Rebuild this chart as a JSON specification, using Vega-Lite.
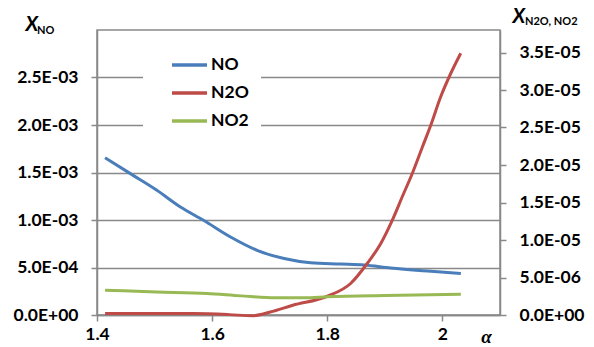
{
  "$schema": "https://vega.github.io/schema/vega-lite/v6.json",
  "autosize": {"type": "none"},
  "padding": {"left": 97, "top": 30, "right": 94, "bottom": 32},
  "width": 403,
  "height": 285,
  "background": "white",
  "data": {
    "values": [
      {"series": "NO", "alpha": 1.414, "x": 0.001655},
      {"series": "NO", "alpha": 1.458, "x": 0.001488},
      {"series": "NO", "alpha": 1.504, "x": 0.001313},
      {"series": "NO", "alpha": 1.545, "x": 0.001137},
      {"series": "NO", "alpha": 1.585, "x": 0.000997},
      {"series": "NO", "alpha": 1.632, "x": 0.000821},
      {"series": "NO", "alpha": 1.678, "x": 0.000681},
      {"series": "NO", "alpha": 1.725, "x": 0.000594},
      {"series": "NO", "alpha": 1.771, "x": 0.00055},
      {"series": "NO", "alpha": 1.823, "x": 0.000537},
      {"series": "NO", "alpha": 1.864, "x": 0.000527},
      {"series": "NO", "alpha": 1.91, "x": 0.000495},
      {"series": "NO", "alpha": 1.98, "x": 0.00046},
      {"series": "NO", "alpha": 2.032, "x": 0.000437},
      {"series": "N2O", "alpha": 1.414, "x": 0.0000002},
      {"series": "N2O", "alpha": 1.5, "x": 0.0000002},
      {"series": "N2O", "alpha": 1.568, "x": 0.00000019},
      {"series": "N2O", "alpha": 1.63, "x": 0.00000005},
      {"series": "N2O", "alpha": 1.67, "x": -0.0000001},
      {"series": "N2O", "alpha": 1.701, "x": 0.0000004},
      {"series": "N2O", "alpha": 1.74, "x": 0.0000013},
      {"series": "N2O", "alpha": 1.8, "x": 0.0000025},
      {"series": "N2O", "alpha": 1.8405, "x": 0.0000042},
      {"series": "N2O", "alpha": 1.8696, "x": 0.0000069},
      {"series": "N2O", "alpha": 1.8927, "x": 0.0000095},
      {"series": "N2O", "alpha": 1.913, "x": 0.00001265},
      {"series": "N2O", "alpha": 1.9304, "x": 0.0000158},
      {"series": "N2O", "alpha": 1.9478, "x": 0.0000189},
      {"series": "N2O", "alpha": 1.9652, "x": 0.0000224},
      {"series": "N2O", "alpha": 1.9797, "x": 0.0000253},
      {"series": "N2O", "alpha": 1.997, "x": 0.0000291},
      {"series": "N2O", "alpha": 2.0144, "x": 0.0000322},
      {"series": "N2O", "alpha": 2.0318, "x": 0.0000349},
      {"series": "NO2", "alpha": 1.414, "x": 0.0000033},
      {"series": "NO2", "alpha": 1.504, "x": 0.00000307},
      {"series": "NO2", "alpha": 1.591, "x": 0.00000286},
      {"series": "NO2", "alpha": 1.65, "x": 0.00000255},
      {"series": "NO2", "alpha": 1.71, "x": 0.0000023},
      {"series": "NO2", "alpha": 1.76, "x": 0.0000023},
      {"series": "NO2", "alpha": 1.8, "x": 0.00000242},
      {"series": "NO2", "alpha": 1.9, "x": 0.0000026},
      {"series": "NO2", "alpha": 2.032, "x": 0.00000277}
    ]
  },
  "layer": [
    {
      "layer": [
        {
          "transform": [{"filter": "datum.series == 'NO'"}],
          "mark": {"type": "line", "interpolate": "monotone", "strokeWidth": 3},
          "encoding": {
            "x": {
              "field": "alpha", "type": "quantitative",
              "scale": {"domain": [1.4, 2.1], "nice": false, "zero": false},
              "axis": {
                "values": [1.4, 1.6, 1.8, 2.0], "format": ".1~f", "grid": false,
                "labelPadding": 4, "title": "α", "titleFont": "Liberation Serif",
                "titleFontStyle": "italic", "titleFontWeight": "bold", "titleFontSize": 19,
                "titleX": 389, "titleY": 27, "titleAlign": "center", "titleBaseline": "alphabetic",
                "labelFlush": false
              }
            },
            "y": {
              "field": "x", "type": "quantitative",
              "scale": {"domain": [0, 0.003], "nice": false, "zero": false},
              "axis": {
                "values": [0, 0.0005, 0.001, 0.0015, 0.002, 0.0025], "grid": true,
                "labelPadding": 13,
                "labelExpr": "datum.value == 0 ? '0.0E+00' : format(datum.value / pow(10, floor(log(datum.value) / LN10 + 1e-9)), '.1f') + 'E-' + (floor(log(datum.value) / LN10 + 1e-9) > -10 ? '0' : '') + abs(floor(log(datum.value) / LN10 + 1e-9))",
                "title": "X", "titleAngle": 0, "titleX": -72, "titleY": 0,
                "titleAlign": "left", "titleBaseline": "alphabetic",
                "titleFontStyle": "italic", "titleFontWeight": "bold", "titleFontSize": 20
              }
            },
            "color": {
              "field": "series", "type": "nominal",
              "scale": {"domain": ["NO", "N2O", "NO2"], "range": ["#4A7EBB", "#BE4B48", "#98B954"]},
              "legend": {"orient": "none", "legendX": 46, "legendY": 3.5, "title": null}
            }
          }
        },
        {
          "data": {"values": [{}]},
          "mark": {"type": "text", "text": "NO", "align": "left", "baseline": "alphabetic", "dx": -60, "dy": 4, "fontSize": 11, "fontWeight": "bold", "font": "Lato", "color": "black"},
          "encoding": {
            "x": {"datum": 1.4, "type": "quantitative"},
            "y": {"datum": 0.003, "type": "quantitative"}
          }
        },
        {
          "data": {"values": [{}]},
          "mark": {"type": "text", "text": "N2O, NO2", "align": "left", "baseline": "alphabetic", "dx": 25, "dy": -5, "fontSize": 11, "fontWeight": "bold", "font": "Lato", "color": "black"},
          "encoding": {
            "x": {"datum": 2.1, "type": "quantitative"},
            "y": {"datum": 0.003, "type": "quantitative"}
          }
        }
      ]
    },
    {
      "transform": [{"filter": "datum.series != 'NO'"}],
      "mark": {"type": "line", "interpolate": "monotone", "strokeWidth": 3},
      "encoding": {
        "x": {"field": "alpha", "type": "quantitative"},
        "y": {
          "field": "x", "type": "quantitative",
          "scale": {"domain": [0, 0.000038], "nice": false, "zero": false},
          "axis": {
            "orient": "right",
            "values": [0, 0.000005, 0.00001, 0.000015, 0.00002, 0.000025, 0.00003, 0.000035],
            "grid": false, "labelPadding": 13,
            "labelExpr": "datum.value == 0 ? '0.0E+00' : format(datum.value / pow(10, floor(log(datum.value) / LN10 + 1e-9)), '.1f') + 'E-' + (floor(log(datum.value) / LN10 + 1e-9) > -10 ? '0' : '') + abs(floor(log(datum.value) / LN10 + 1e-9))",
            "title": "X", "titleAngle": 0, "titleX": 12, "titleY": -8,
            "titleAlign": "left", "titleBaseline": "alphabetic",
            "titleFontStyle": "italic", "titleFontWeight": "bold", "titleFontSize": 20
          }
        },
        "color": {"field": "series", "type": "nominal"}
      }
    }
  ],
  "resolve": {"scale": {"y": "independent"}},
  "config": {
    "font": "Lato",
    "view": {"stroke": "#898989", "strokeWidth": 1.5},
    "axis": {
      "labelFont": "Lato", "labelFontWeight": "bold", "labelFontSize": 17.5, "labelColor": "#000000",
      "titleFont": "Lato", "titleColor": "#000000",
      "domainColor": "#898989", "domainWidth": 1.5,
      "tickColor": "#898989", "tickWidth": 1.5, "tickSize": 6,
      "gridColor": "#898989", "gridWidth": 1.5
    },
    "legend": {
      "symbolType": "stroke", "symbolSize": 1225, "symbolStrokeWidth": 3.5,
      "labelFont": "Lato", "labelFontWeight": "bold", "labelFontSize": 17.5, "labelColor": "#000000",
      "labelOffset": 2, "rowPadding": 0, "padding": 12, "symbolOffset": 15,
      "fillColor": "white"
    }
  }
}
